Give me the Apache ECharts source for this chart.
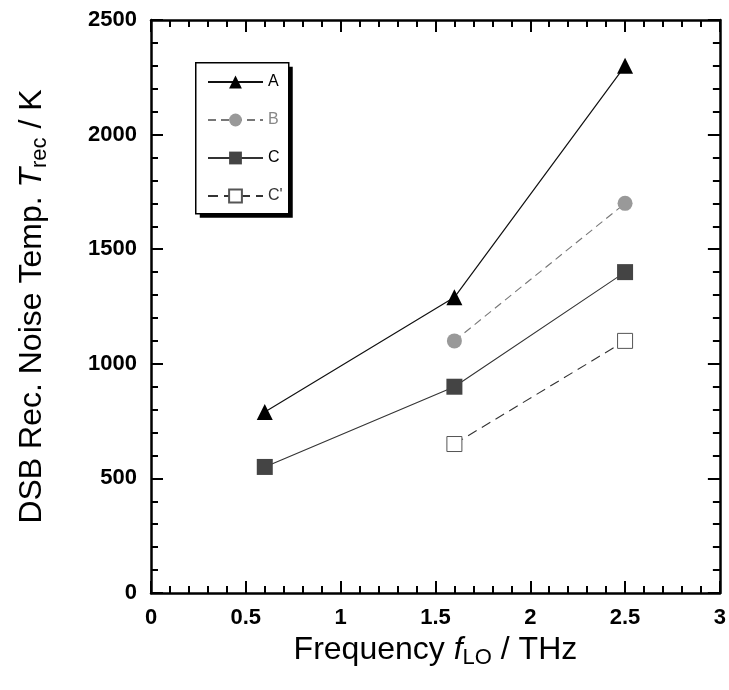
<!DOCTYPE html>
<html>
<head>
<meta charset="utf-8">
<script src="https://cdn.jsdelivr.net/npm/echarts@6/dist/echarts.min.js"></script>
<style>html,body{margin:0;padding:0;background:#fff}#c{width:729px;height:690px}</style>
</head>
<body>
<div id="c"></div>
<script>
const seriesNames = ['A', 'B', 'C', "C'"];
const freqA = [0.6, 1.6, 2.5];
const valA = [790, 1290, 2300];
const freqB = [1.6, 2.5];
const valB = [1100, 1700];
const freqC = [0.6, 1.6, 2.5];
const valC = [550, 900, 1400];
const freqCp = [1.6, 2.5];
const valCp = [650, 1100];

const pairs = (xs, ys) => xs.map((x, i) => [x, ys[i]]);

const chart = echarts.init(document.getElementById('c'));
const FF = 'Liberation Sans, Arial, sans-serif';
const tickLabel = { fontFamily: FF, fontWeight: 'bold', fontSize: 22, color: '#000' };
const axLine = { show: true, onZero: false, lineStyle: { color: '#000', width: 2.5 } };
const tickCfg = { show: true, inside: true, length: 12, lineStyle: { color: '#000', width: 2 } };
const minorCfg = { show: true, splitNumber: 5, length: 7, lineStyle: { color: '#000', width: 2 } };
const titleRich = {
  n: { fontFamily: FF, fontSize: 32, color: '#000' },
  i: { fontFamily: FF, fontSize: 32, fontStyle: 'italic', color: '#000' },
  s: { fontFamily: FF, fontSize: 22, color: '#000', padding: [16, 0, 0, 0] }
};

const option = {
  backgroundColor: '#fff',
  animation: false,
  grid: { left: 151, right: 9, top: 20, bottom: 97, containLabel: false },
  graphic: {
    elements: [
      {
        type: 'group', left: 195, top: 62, z: 10,
        children: [
          { type: 'rect', x: 4, y: 4, shape: { width: 93, height: 151 }, style: { fill: '#000' }, z: 10 },
          { type: 'rect', x: 0, y: 0, shape: { width: 93, height: 151 }, style: { fill: '#fff', stroke: '#000', lineWidth: 1.5 }, z: 11 }
        ]
      }
    ]
  },
  legend: {
    orient: 'vertical',
    left: 195, top: 62,
    padding: [12, 10, 12, 12],
    itemGap: 22,
    itemWidth: 55,
    itemHeight: 16,
    z: 20,
    textStyle: { fontFamily: FF, fontSize: 16, color: '#000', padding: [0, 0, 0, 0] },
    data: [
      { name: 'A' },
      { name: 'B', textStyle: { color: '#888' } },
      { name: 'C' },
      { name: "C'", textStyle: { color: '#333' } }
    ]
  },
  xAxis: [
    {
      type: 'value', min: 0, max: 3, interval: 0.5, position: 'bottom',
      axisLine: axLine, axisTick: tickCfg, minorTick: minorCfg,
      splitLine: { show: false },
      axisLabel: Object.assign({ margin: 14, formatter: v => String(v) }, tickLabel),
      name: '{n|Frequency }{i|f}{s|LO}{n| / THz}',
      nameLocation: 'middle', nameGap: 35,
      nameTextStyle: { rich: titleRich }
    },
    {
      type: 'value', min: 0, max: 3, interval: 0.5, position: 'top',
      axisLine: axLine, axisTick: tickCfg, minorTick: minorCfg,
      splitLine: { show: false },
      axisLabel: { show: false }
    }
  ],
  yAxis: [
    {
      type: 'value', min: 0, max: 2500, interval: 500, position: 'left',
      axisLine: axLine, axisTick: tickCfg, minorTick: minorCfg,
      splitLine: { show: false },
      axisLabel: Object.assign({ margin: 14, formatter: v => String(v) }, tickLabel),
      name: '{n|DSB Rec. Noise Temp. }{i|T}{s|rec}{n| / K}',
      nameLocation: 'middle', nameGap: 100,
      nameTextStyle: { rich: titleRich }
    },
    {
      type: 'value', min: 0, max: 2500, interval: 500, position: 'right',
      axisLine: axLine, axisTick: tickCfg, minorTick: minorCfg,
      splitLine: { show: false },
      axisLabel: { show: false }
    }
  ],
  series: [
    {
      name: seriesNames[0], type: 'line', data: pairs(freqA, valA),
      symbol: 'triangle', symbolSize: 16,
      itemStyle: { color: '#000' },
      lineStyle: { color: '#111', width: 1.2, type: 'solid' }
    },
    {
      name: seriesNames[1], type: 'line', data: pairs(freqB, valB),
      symbol: 'circle', symbolSize: 15,
      itemStyle: { color: '#999' },
      lineStyle: { color: '#777', width: 1.1, type: [8, 5] }
    },
    {
      name: seriesNames[2], type: 'line', data: pairs(freqC, valC),
      symbol: 'rect', symbolSize: 16,
      itemStyle: { color: '#444' },
      lineStyle: { color: '#333', width: 1.1, type: 'solid' }
    },
    {
      name: seriesNames[3], type: 'line', data: pairs(freqCp, valCp),
      symbol: 'rect', symbolSize: 15,
      itemStyle: { color: '#fff', borderColor: '#555', borderWidth: 1 },
      lineStyle: { color: '#333', width: 1.1, type: [10, 6] }
    }
  ]
};
chart.setOption(option);
</script>
</body>
</html>
